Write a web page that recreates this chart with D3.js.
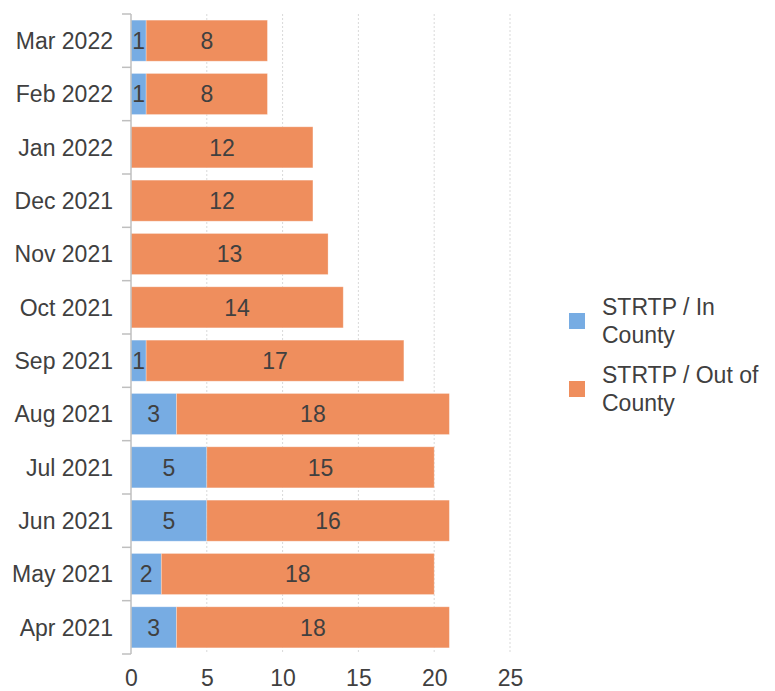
<!DOCTYPE html>
<html><head><meta charset="utf-8">
<script src="https://cdn.jsdelivr.net/npm/d3@7"></script>
<style>body{margin:0;background:#fff}svg{display:block}</style>
</head><body>
<svg id="c" width="775" height="691"></svg>
<script>
const categories = ["Mar 2022","Feb 2022","Jan 2022","Dec 2021","Nov 2021","Oct 2021","Sep 2021","Aug 2021","Jul 2021","Jun 2021","May 2021","Apr 2021"];
const inCounty = [1,1,0,0,0,0,1,3,5,5,2,3];
const outCounty = [8,8,12,12,13,14,17,18,15,16,18,18];
const seriesNames = ["STRTP / In County","STRTP / Out of County"];
const legendLines = [["STRTP / In","County"],["STRTP / Out of","County"]];
const colors = ["#77ACE3","#EF8E5D"];
const xTicks = [0,5,10,15,20,25];

const svg = d3.select("#c");
const font = "Liberation Sans, Arial, sans-serif";
const fs = 23;
const txt = "#404040";
const x = d3.scaleLinear().domain([0,25]).range([131,510]);
const y = d3.scaleBand().domain(categories).range([14,654]).paddingInner(0.23).paddingOuter(0.115);

// gridlines
svg.append("g").selectAll("line").data(xTicks.slice(1)).join("line")
  .attr("x1",d=>x(d)).attr("x2",d=>x(d)).attr("y1",14).attr("y2",654)
  .attr("stroke","#d9d9d9").attr("stroke-width",1).attr("stroke-dasharray","2,2");

const rows = categories.map((c,i)=>({c, vals:[inCounty[i],outCounty[i]]}));
const stack = d3.stack().keys([0,1]).value((d,k)=>d.vals[k])(rows);

stack.forEach((layer,k)=>{
  const g = svg.append("g");
  layer.forEach(seg=>{
    const v = seg[1]-seg[0];
    if(v<=0) return;
    g.append("rect").attr("x",x(seg[0])).attr("y",y(seg.data.c))
      .attr("width",x(seg[1])-x(seg[0])).attr("height",y.bandwidth())
      .attr("fill",colors[k]).attr("stroke","#fff").attr("stroke-opacity",0.35).attr("stroke-width",0.8);
    g.append("text").attr("x",(x(seg[0])+x(seg[1]))/2).attr("y",y(seg.data.c)+y.bandwidth()/2)
      .attr("dy","0.36em").attr("text-anchor","middle").attr("font-family",font).attr("font-size",fs)
      .attr("fill",txt).text(v);
  });
});

// y axis
const step = y.step();
svg.append("line").attr("x1",131).attr("x2",131).attr("y1",14).attr("y2",654).attr("stroke","#bfbfbf").attr("stroke-width",1.5);
const bounds = d3.range(categories.length+1).map(i=>14+i*step);
svg.append("g").selectAll("line").data(bounds).join("line")
  .attr("x1",122).attr("x2",131).attr("y1",d=>d).attr("y2",d=>d).attr("stroke","#bfbfbf").attr("stroke-width",1.5);
svg.append("g").selectAll("text").data(categories).join("text")
  .attr("x",113).attr("y",d=>y(d)+y.bandwidth()/2).attr("dy","0.36em").attr("text-anchor","end")
  .attr("font-family",font).attr("font-size",fs).attr("fill",txt).text(d=>d);

// x axis
const xa = svg.append("g").attr("transform","translate(0,664)")
  .call(d3.axisBottom(x).tickValues(xTicks).tickSize(0).tickPadding(6));
xa.select(".domain").remove();
xa.selectAll("text").attr("font-family",font).attr("font-size",fs).attr("fill",txt);

// legend
const lg = svg.append("g");
const legY = [307,375];
legendLines.forEach((lines,i)=>{
  lg.append("rect").attr("x",569).attr("y",legY[i]+6).attr("width",16).attr("height",16).attr("fill",colors[i]);
  lines.forEach((l,j)=>{
    lg.append("text").attr("x",602).attr("y",legY[i]+j*28).attr("dy","0.36em")
      .attr("font-family",font).attr("font-size",fs).attr("fill",txt).text(l);
  });
});
</script>
</body></html>
